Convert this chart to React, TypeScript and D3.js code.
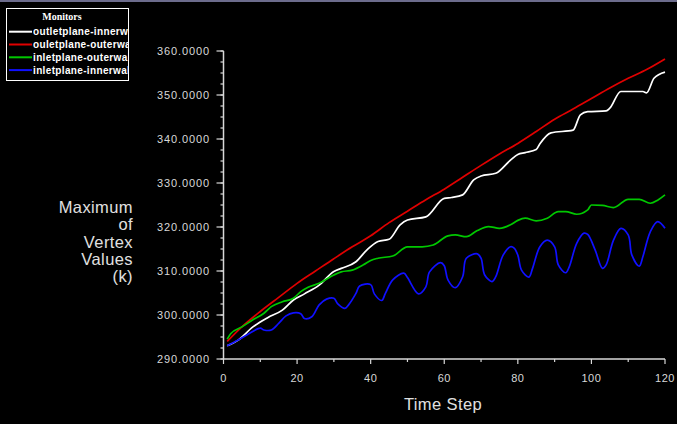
import { useEffect, useRef } from 'react';
import * as d3 from 'd3';

// time step / value pairs, one pair of arrays per monitor
const outletInnerSteps = [1, 4, 8, 12, 16, 19, 22, 26, 30, 32, 36, 39, 42, 45, 48, 50, 55, 60, 62, 65, 68, 70, 74, 78, 80, 82, 85, 86, 89, 95, 97, 99, 104, 105, 108, 114, 115, 117, 120];
const outletInnerValues = [293.0, 294.3, 297.3, 299.4, 301.1, 303.4, 304.8, 306.8, 309.9, 310.6, 312.1, 314.8, 316.7, 317.2, 320.5, 321.6, 322.3, 326.5, 326.7, 327.3, 330.7, 331.6, 332.2, 335.2, 336.5, 336.9, 337.6, 338.9, 341.4, 342.0, 345.5, 346.2, 346.4, 347.0, 350.8, 350.8, 350.5, 353.8, 355.2];

const outletOuterSteps = [1, 5, 10, 15, 20, 25, 30, 35, 40, 45, 50, 55, 60, 65, 70, 75, 80, 85, 90, 95, 100, 105, 110, 115, 120];
const outletOuterValues = [294.0, 297.3, 300.8, 304.0, 307.2, 310.0, 312.8, 315.5, 318.0, 321.0, 323.6, 326.2, 328.6, 331.3, 334.0, 336.6, 339.0, 341.7, 344.5, 346.8, 349.2, 351.6, 353.8, 355.8, 358.2];

const inletOuterSteps = [1, 2, 5, 8, 11, 13, 16, 19, 21, 23, 26, 30, 32, 35, 38, 40, 42, 46, 50, 54, 57, 61, 63, 66, 69, 72, 75, 78, 80, 82, 85, 88, 91, 93, 96, 99, 100, 103, 106, 110, 113, 116, 118, 120];
const inletOuterValues = [294.5, 295.8, 297.3, 298.9, 300.4, 301.9, 303.0, 303.8, 305.3, 306.3, 307.2, 309.1, 309.8, 310.2, 311.4, 312.4, 312.9, 313.4, 315.5, 315.5, 315.9, 318.0, 318.2, 317.8, 319.2, 320.1, 319.7, 320.5, 321.5, 322.0, 321.4, 322.0, 323.5, 323.5, 322.9, 323.9, 325.0, 324.9, 324.4, 326.3, 326.3, 325.4, 326.1, 327.3];

const inletInnerSteps = [1, 4, 7, 10, 11, 13, 15, 17, 19, 21, 22, 24, 26, 28, 30, 31, 33, 34, 36, 37, 40, 41, 43, 44, 46, 49, 50, 53, 55, 56, 59, 60, 61, 63, 65, 66, 69, 70, 71, 73, 74, 76, 78, 79, 80, 81, 83, 84, 86, 88, 90, 91, 93, 94, 96, 98, 99, 101, 103, 104, 106, 108, 110, 111, 113, 114, 116, 118, 120];
const inletInnerValues = [293.0, 294.3, 295.8, 297.0, 296.6, 296.6, 298.1, 299.8, 300.5, 300.3, 299.2, 299.6, 302.3, 303.6, 303.8, 302.6, 301.5, 302.3, 304.9, 306.6, 306.9, 304.8, 303.3, 304.9, 308.0, 309.5, 308.5, 304.8, 306.4, 309.8, 311.9, 311.2, 308.0, 306.2, 308.7, 312.9, 313.9, 312.9, 309.1, 307.6, 308.7, 313.6, 315.5, 315.2, 313.6, 310.2, 308.6, 310.6, 315.5, 317.0, 315.5, 311.4, 309.6, 311.0, 316.3, 318.6, 318.3, 314.8, 310.6, 311.4, 317.0, 319.7, 318.2, 313.6, 311.1, 313.3, 318.9, 321.2, 319.7];

const monitorNames = ['outletplane-innerwall', 'ouletplane-outerwall', 'inletplane-outerwall', 'inletplane-innerwall'];
const monitorColors = ['#ffffff', '#e00000', '#00c800', '#1010ff'];

const xTicks = [0, 20, 40, 60, 80, 100, 120];
const yTicks = [290, 300, 310, 320, 330, 340, 350, 360];
const yTitleLines = ['Maximum', 'of', 'Vertex', 'Values', '(k)'];

const App = () => {
  const svgRef = useRef<SVGSVGElement>(null);

  useEffect(() => {
    const svg = d3.select(svgRef.current);
    svg.selectAll('*').remove();

    const width = 677;
    const height = 424;
    const axisColor = '#d8d8d8';
    const labelFont = '"Liberation Sans", Arial, sans-serif';

    svg.append('rect').attr('width', width).attr('height', height).attr('fill', '#000');
    svg.append('rect').attr('x', 0).attr('y', 0).attr('width', width).attr('height', 2).attr('fill', '#6c6c8c');

    const x = d3.scaleLinear().domain([0, 120]).range([223.5, 665]);
    const y = d3.scaleLinear().domain([290, 360]).range([359, 51]);

    // Y axis
    const yAxis = svg.append('g');
    yAxis
      .append('line')
      .attr('x1', x(0))
      .attr('x2', x(0))
      .attr('y1', y(360))
      .attr('y2', y(290))
      .attr('stroke', axisColor)
      .attr('stroke-width', 1.5);
    const yMinor = d3.range(290, 360.01, 2.5);
    yAxis
      .selectAll('.yminor')
      .data(yMinor)
      .enter()
      .append('line')
      .attr('x1', x(0) - 3)
      .attr('x2', x(0))
      .attr('y1', (d) => y(d))
      .attr('y2', (d) => y(d))
      .attr('stroke', axisColor)
      .attr('stroke-width', 1.2);
    yAxis
      .selectAll('.ymajor')
      .data(yTicks)
      .enter()
      .append('line')
      .attr('x1', x(0) - 7)
      .attr('x2', x(0))
      .attr('y1', (d) => y(d))
      .attr('y2', (d) => y(d))
      .attr('stroke', axisColor)
      .attr('stroke-width', 1.2);
    yAxis
      .selectAll('.ylabel')
      .data(yTicks)
      .enter()
      .append('text')
      .attr('x', 210)
      .attr('y', (d) => y(d))
      .attr('dy', '0.35em')
      .attr('text-anchor', 'end')
      .attr('fill', '#d8d8d8')
      .style('font-family', labelFont)
      .style('font-size', '11px')
      .style('letter-spacing', '0.9px')
      .text((d) => d3.format('.4f')(d));

    // X axis
    const xAxis = svg.append('g');
    xAxis
      .append('line')
      .attr('x1', x(0))
      .attr('x2', x(120))
      .attr('y1', y(290))
      .attr('y2', y(290))
      .attr('stroke', axisColor)
      .attr('stroke-width', 1.5);
    xAxis
      .selectAll('.xminor')
      .data(d3.range(10, 120, 20))
      .enter()
      .append('line')
      .attr('x1', (d) => x(d))
      .attr('x2', (d) => x(d))
      .attr('y1', y(290))
      .attr('y2', y(290) + 3)
      .attr('stroke', axisColor)
      .attr('stroke-width', 1.2);
    xAxis
      .selectAll('.xmajor')
      .data(xTicks)
      .enter()
      .append('line')
      .attr('x1', (d) => x(d))
      .attr('x2', (d) => x(d))
      .attr('y1', y(290))
      .attr('y2', y(290) + 5)
      .attr('stroke', axisColor)
      .attr('stroke-width', 1.2);
    xAxis
      .selectAll('.xlabel')
      .data(xTicks)
      .enter()
      .append('text')
      .attr('x', (d) => x(d))
      .attr('y', 381.5)
      .attr('text-anchor', 'middle')
      .attr('fill', '#d8d8d8')
      .style('font-family', labelFont)
      .style('font-size', '11px')
      .style('letter-spacing', '0.5px')
      .text((d) => d);

    // axis titles
    svg
      .append('text')
      .attr('x', 443)
      .attr('y', 410)
      .attr('text-anchor', 'middle')
      .attr('fill', '#e0e0e0')
      .style('font-family', labelFont)
      .style('font-size', '16.5px')
      .style('letter-spacing', '0.4px')
      .text('Time Step');

    svg
      .append('g')
      .selectAll('text')
      .data(yTitleLines)
      .enter()
      .append('text')
      .attr('x', 133)
      .attr('y', (d, i) => 213 + i * 17.3)
      .attr('text-anchor', 'end')
      .attr('fill', '#e0e0e0')
      .style('font-family', labelFont)
      .style('font-size', '16.5px')
      .style('letter-spacing', '0.4px')
      .text((d) => d);

    // Series
    const series = [
      { steps: outletInnerSteps, values: outletInnerValues, curve: d3.curveMonotoneX },
      { steps: outletOuterSteps, values: outletOuterValues, curve: d3.curveMonotoneX },
      { steps: inletOuterSteps, values: inletOuterValues, curve: d3.curveMonotoneX },
      { steps: inletInnerSteps, values: inletInnerValues, curve: d3.curveCatmullRom.alpha(0.5) },
    ];

    series.forEach((s, i) => {
      const pts = s.steps.map((t, j) => [t, s.values[j]] as [number, number]);
      const line = d3
        .line<[number, number]>()
        .x((d) => x(d[0]))
        .y((d) => y(d[1]))
        .curve(s.curve);
      svg
        .append('path')
        .datum(pts)
        .attr('fill', 'none')
        .attr('stroke', monitorColors[i])
        .attr('stroke-width', 1.7)
        .attr('stroke-linejoin', 'round')
        .attr('d', line);
    });

    // Legend
    svg
      .append('defs')
      .append('clipPath')
      .attr('id', 'legend-clip')
      .append('rect')
      .attr('x', 6)
      .attr('y', 8)
      .attr('width', 122)
      .attr('height', 72);
    const legend = svg.append('g');
    legend
      .append('rect')
      .attr('x', 6.5)
      .attr('y', 8.5)
      .attr('width', 122)
      .attr('height', 72)
      .attr('fill', '#000')
      .attr('stroke', '#ffffff')
      .attr('stroke-width', 1);
    legend
      .append('text')
      .attr('x', 62)
      .attr('y', 20)
      .attr('text-anchor', 'middle')
      .attr('fill', '#ffffff')
      .style('font-family', '"Liberation Serif", "Times New Roman", serif')
      .style('font-weight', 'bold')
      .style('font-size', '10px')
      .text('Monitors');

    const items = legend
      .append('g')
      .attr('clip-path', 'url(#legend-clip)')
      .selectAll('.item')
      .data(monitorNames)
      .enter()
      .append('g')
      .attr('transform', (d, i) => `translate(0,${31.7 + i * 12.8})`);
    items
      .append('line')
      .attr('x1', 9)
      .attr('x2', 32)
      .attr('y1', 0)
      .attr('y2', 0)
      .attr('stroke', (d, i) => monitorColors[i])
      .attr('stroke-width', 2);
    items
      .append('text')
      .attr('x', 33)
      .attr('y', 0)
      .attr('dy', '0.35em')
      .attr('fill', '#ffffff')
      .style('font-family', labelFont)
      .style('font-weight', 'bold')
      .style('font-size', '10px')
      .style('letter-spacing', '0.35px')
      .text((d) => d);
  }, []);

  return (
    <svg
      ref={svgRef}
      width={677}
      height={424}
      style={{ position: 'absolute', left: 0, top: 0, display: 'block' }}
    ></svg>
  );
};

export default App;
